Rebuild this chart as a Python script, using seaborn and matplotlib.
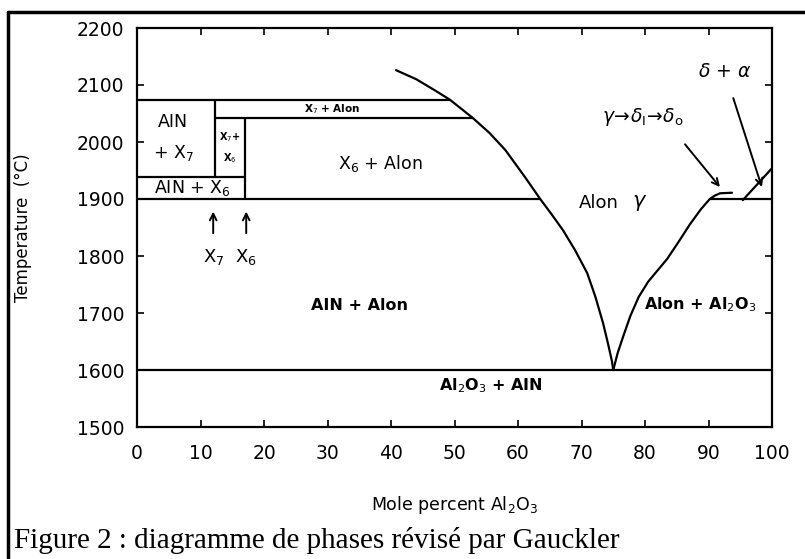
import numpy as np
import pandas as pd
import matplotlib.pyplot as plt
from matplotlib.lines import Line2D
import seaborn as sns

# liquidus / phase boundary curves (mole % Al2O3, temperature in C)
left_x = [40.8, 44.0, 47.0, 49.3, 52.9, 55.5, 58.0, 61.0, 63.5, 65.3, 67.1,
          69.0, 70.9, 72.2, 73.4, 74.2, 74.8, 75.0]
left_t = [2126, 2110, 2090, 2074, 2042, 2016, 1986, 1940, 1900, 1873, 1845,
          1810, 1770, 1728, 1682, 1645, 1615, 1600]
right_x = [75.0, 75.7, 76.6, 77.7, 79.0, 80.5, 82.0, 83.5, 85.3, 87.1, 88.8,
           90.2, 91.0, 91.8, 93.7]
right_t = [1600, 1630, 1660, 1695, 1728, 1755, 1775, 1795, 1825, 1856, 1882,
           1900, 1906, 1910, 1911]
diag_x = [95.4, 100.0]
diag_t = [1898, 1954]

# horizontal boundaries: start, end, temperature
h_start = [0, 0, 90.2, 0, 12.3, 0]
h_end = [100, 63.5, 100, 17.0, 52.9, 49.3]
h_temp = [1600, 1900, 1900, 1938, 2042, 2074]

# vertical boundaries: composition, low temp, high temp
v_x = [12.3, 17.0]
v_low = [1938, 1900]
v_high = [2074, 2042]

x_ticks = list(range(0, 101, 10))
y_ticks = list(range(1500, 2201, 100))

sns.set_theme(style="ticks")
plt.rcParams["font.family"] = ["DejaVu Sans"]
for k in ["text.color", "axes.labelcolor", "xtick.color", "ytick.color", "axes.edgecolor"]:
    plt.rcParams[k] = "black"

fig = plt.figure(figsize=(8.05, 5.59), dpi=100)
ax = fig.add_axes([137 / 805, 1 - 427 / 559, 635 / 805, 399 / 559])

lw = 1.6
curves = pd.concat([
    pd.DataFrame({"x": left_x, "t": left_t, "seg": "left"}),
    pd.DataFrame({"x": right_x, "t": right_t, "seg": "right"}),
    pd.DataFrame({"x": diag_x, "t": diag_t, "seg": "diag"}),
])
sns.lineplot(data=curves, x="x", y="t", units="seg", estimator=None, sort=False,
             color="black", lw=lw, ax=ax)
ax.hlines(h_temp, h_start, h_end, color="black", lw=lw)
ax.vlines(v_x, v_low, v_high, color="black", lw=lw)

ax.set_xlim(0, 100)
ax.set_ylim(1500, 2200)
ax.set_xticks(x_ticks)
ax.set_yticks(y_ticks)
ax.tick_params(direction="in", length=5, width=1.2, top=True, right=True,
               labelsize=13.5, pad=9)
ax.tick_params(axis="x", pad=12)
for s in ax.spines.values():
    s.set_linewidth(1.6)

ax.set_xlabel("Mole percent Al$_2$O$_3$", fontsize=12.5)
ax.set_ylabel("Temperature  (\u00b0C)", fontsize=12)
ax.xaxis.set_label_coords(0.5, -0.168)
ax.yaxis.set_label_coords(-0.165, 0.5)

kw = dict(ha="center", va="center", color="black")
ax.text(5.7, 2035, "AIN", fontsize=12.5, **kw)
ax.text(5.7, 1980, "+ X$_7$", fontsize=12.5, **kw)
ax.text(14.6, 2009, "X$_7$+", fontsize=7, fontweight="bold", **kw)
ax.text(14.6, 1972, "X$_6$", fontsize=7, fontweight="bold", **kw)
ax.text(8.7, 1919, "AIN + X$_6$", fontsize=12.5, **kw)
ax.text(30.8, 2058, "X$_7$ + Alon", fontsize=7.5, fontweight="bold", **kw)
ax.text(38.3, 1963, "X$_6$ + Alon", fontsize=12.5, **kw)
ax.text(35.0, 1714, "AIN + Alon", fontsize=11.5, fontweight="bold", **kw)
ax.text(72.8, 1893, "Alon", fontsize=13, **kw)
ax.text(79.2, 1893, r"$\gamma$", fontsize=15, **kw)
ax.text(79.6, 2044, r"$\gamma\!\rightarrow\!\delta_{\mathrm{I}}\!\rightarrow\!\delta_{\mathrm{o}}$",
        fontsize=13.5, **kw)
ax.text(92.5, 2123, r"$\delta$ + $\alpha$", fontsize=13.5, **kw)
ax.text(79.8, 1714, "Alon + Al$_2$O$_3$", fontsize=11.5, fontweight="bold",
        ha="left", va="center")
ax.text(47.5, 1572, "Al$_2$O$_3$ + AIN", fontsize=11.5, fontweight="bold",
        ha="left", va="center")
ax.text(12.0, 1798, "X$_7$", fontsize=13, **kw)
ax.text(17.2, 1798, "X$_6$", fontsize=13, **kw)

arrow = dict(arrowstyle="->", color="black", lw=1.4, shrinkA=0, shrinkB=0)
ax.annotate("", xy=(12.0, 1878), xytext=(12.0, 1840), arrowprops=arrow)
ax.annotate("", xy=(17.2, 1878), xytext=(17.2, 1840), arrowprops=arrow)
ax.annotate("", xy=(91.8, 1921), xytext=(86.3, 1996), arrowprops=arrow)
ax.annotate("", xy=(98.4, 1921), xytext=(93.9, 2077), arrowprops=arrow)

# scanned page frame and caption
fig.add_artist(Line2D([8 / 805, 8 / 805], [0, 1 - 12 / 559], color="black", lw=2.5))
fig.add_artist(Line2D([8 / 805, 1], [1 - 12 / 559, 1 - 12 / 559], color="black", lw=2.5))
fig.text(14 / 805, 1 - 540 / 559, "Figure 2 : diagramme de phases r\u00e9vis\u00e9 par Gauckler",
         family="Liberation Serif", fontsize=21, ha="left", va="center")

fig.savefig("out.png", dpi=100)
